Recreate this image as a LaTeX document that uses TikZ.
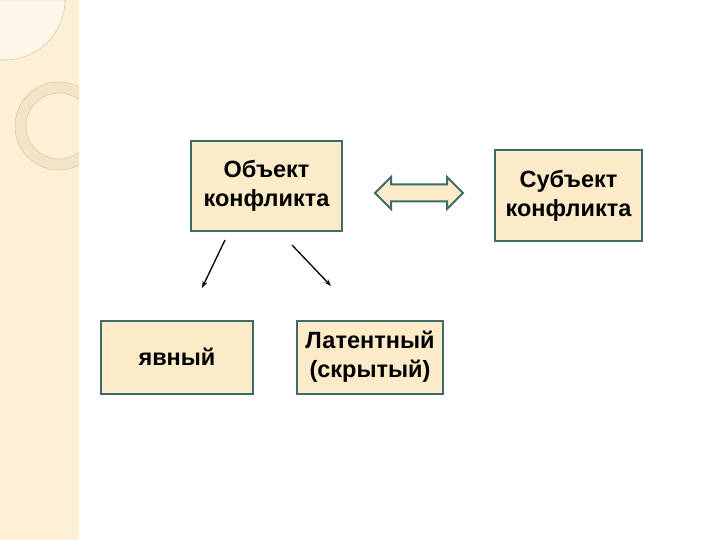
\documentclass[tikz,border=0pt]{standalone}
\usepackage{fontspec}
\setmainfont{Liberation Sans}
\usetikzlibrary{arrows.meta,shapes.arrows}
\definecolor{strip}{HTML}{FDF0D6}
\definecolor{stripl}{HTML}{FEF6E9}
\definecolor{ring}{HTML}{F3E4C6}
\definecolor{ringline}{HTML}{DCCBA6}
\definecolor{boxfill}{HTML}{FCEBC9}
\definecolor{teal}{HTML}{3D6B68}

\begin{document}
\begin{tikzpicture}[x=1pt,y=-1pt,
	every node/.style={font=\fontsize{23.5}{29}\selectfont\bfseries, align=center},
	box/.style={draw=teal, line width=2pt, fill=boxfill, inner sep=0pt},
	link/.style={-{Stealth[length=7pt,width=5pt]}, line width=1.3pt}]
	\useasboundingbox (0,0) rectangle (720,540);
	% left strip with decorations
	\fill[strip] (0,0) rectangle (79,540);
	\filldraw[fill=stripl, draw=ringline, line width=0.6pt] (0,0) -- (65,0) arc[start angle=0, end angle=90, radius=60] -- (0,60);
	\begin{scope}
		\clip (0,0) rectangle (79,540);
		\filldraw[fill=ring, draw=ringline, line width=0.6pt, even odd rule] (59,126) circle[radius=44] (59,126) circle[radius=33];
	\end{scope}
	% boxes
	\node[box, minimum width=151, minimum height=90] (obj) at (266.5,186) {Объект\\конфликта};
	\node[box, minimum width=147, minimum height=90] (subj) at (568.5,195.5) {Субъект\\конфликта};
	\node[box, minimum width=152, minimum height=73] (yav) at (177,357) {явный};
	\node[box, minimum width=146, minimum height=73] (lat) at (370,357) {Латентный\\(скрытый)};
	\node[double arrow, draw=teal, line width=2pt, fill=boxfill, inner xsep=0pt, inner ysep=7.5pt,
		minimum height=88, double arrow head extend=7.5pt] (darr) at (419,193) {};
	% arrows
	\coordinate (s1) at (225,240);
	\coordinate (e1) at (202,288);
	\coordinate (s2) at (292,245);
	\coordinate (e2) at (331,286);
	\draw[link] (s1) -- (e1);
	\draw[link] (s2) -- (e2);
\end{tikzpicture}
\end{document}
